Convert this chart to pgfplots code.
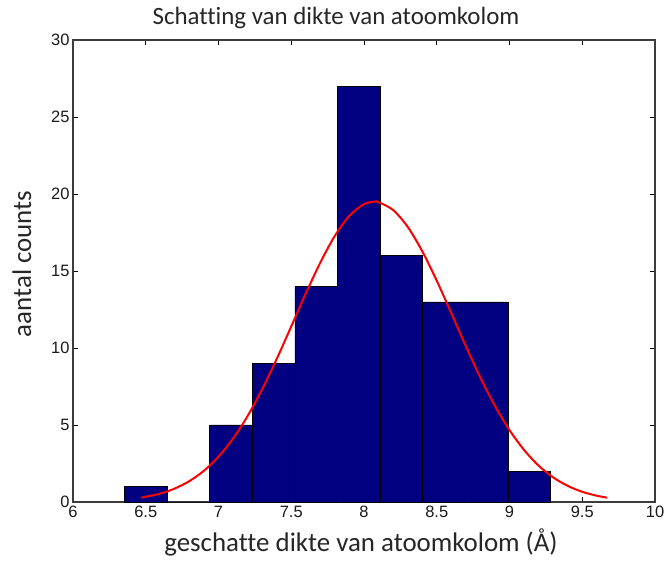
\documentclass[border=0pt]{standalone}
\usepackage{pgfplots}
\pgfplotsset{compat=1.18}
\usepackage{fontspec}
\setmainfont{Carlito}[Ligatures=NoCommon]
\newfontfamily\tickfont{Liberation Sans}

\definecolor{barnavy}{RGB}{0,0,128}
\definecolor{axisgray}{RGB}{60,60,60}

% histogram counts, left bin edges (bin width 0.293)
\pgfplotstableread{
edge   count
6.353  1
6.646  0
6.939  5
7.232  9
7.525  14
7.818  27
8.111  16
8.404  13
8.697  13
8.990  2
9.283  2
}\histdata

% fitted normal curve
\pgfplotstableread{
x     y
6.47  0.283
6.6   0.548
6.7   0.877
6.8   1.356
6.9   2.030
7.0   2.939
7.1   4.118
7.2   5.581
7.3   7.319
7.4   9.286
7.5   11.40
7.6   13.54
7.7   15.55
7.8   17.29
7.9   18.59
8.0   19.34
8.07  19.50
8.1   19.47
8.2   18.96
8.3   17.87
8.4   16.29
8.5   14.37
8.6   12.26
8.7   10.12
8.8   8.08
8.9   6.24
9.0   4.67
9.1   3.38
9.2   2.36
9.3   1.60
9.4   1.05
9.5   0.663
9.6   0.407
9.67  0.283
}\fitdata

\begin{document}
\begin{tikzpicture}
\begin{axis}[
  at={(0,0)}, anchor=south west,
  scale only axis,
  width=582bp, height=462bp,
  xmin=6, xmax=10, ymin=0, ymax=30,
  xtick={6,6.5,...,10}, ytick={0,5,...,30},
  xticklabels={6,6.5,7,7.5,8,8.5,9,9.5,10},
  tick align=inside,
  major tick length=5bp,
  axis line style={axisgray, line width=1.1pt},
  every tick/.style={black, line width=0.8pt},
  tick label style={font=\tickfont\fontsize{16.5}{19}\selectfont, text=black!90},
  /pgf/number format/assume math mode=true,
  xticklabel style={yshift=-1bp},
  clip=false,
]
\addplot[ybar interval, fill=barnavy, draw=black, line width=0.6pt]
  table[x=edge, y=count] {\histdata};
\addplot[red, line width=2bp, smooth] table[x=x, y=y] {\fitdata};
\end{axis}

\node[font=\fontsize{25}{28}\selectfont, text=black!85] at (263bp,484bp)
  {Schatting van dikte van atoomkolom};
\node[font=\fontsize{27}{30}\selectfont, text=black!85] at (288bp,-40bp)
  {geschatte dikte van atoomkolom (Å)};
\node[font=\fontsize{27}{30}\selectfont, text=black!85, rotate=90] at (-51bp,238bp)
  {aantal counts};

\pgfresetboundingbox
\path (-73bp,-60bp) rectangle (592bp,502bp);
\end{tikzpicture}
\end{document}
